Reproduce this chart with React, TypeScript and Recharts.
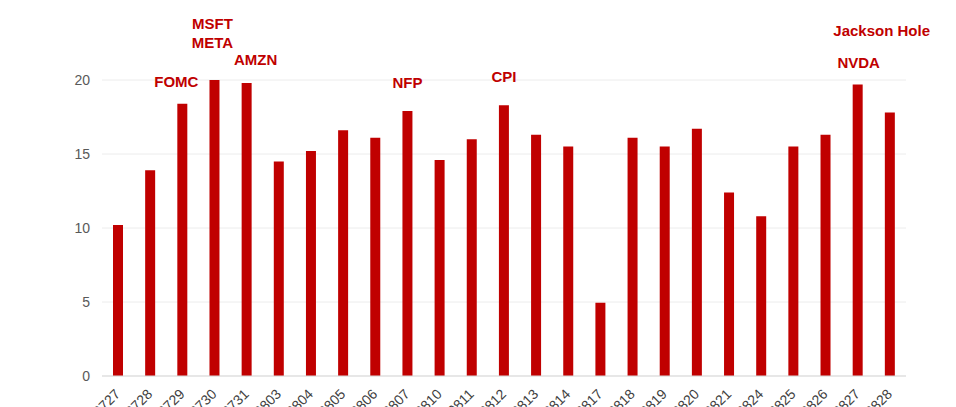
import { Bar, BarChart, CartesianGrid, LabelList, XAxis, YAxis } from "recharts";

const dates = [
  "0727", "0728", "0729", "0730", "0731",
  "0803", "0804", "0805", "0806", "0807",
  "0810", "0811", "0812", "0813", "0814",
  "0817", "0818", "0819", "0820", "0821",
  "0824", "0825", "0826", "0827", "0828",
];

const values = [
  10.2, 13.9, 18.4, 20.0, 19.8,
  14.5, 15.2, 16.6, 16.1, 17.9,
  14.6, 16.0, 18.3, 16.3, 15.5,
  4.95, 16.1, 15.5, 16.7, 12.4,
  10.8, 15.5, 16.3, 19.7, 17.8,
];

const yTicks = [0, 5, 10, 15, 20];

// event notes shown above some bars (top line first)
const notes: Record<string, string[]> = {
  "0729": ["FOMC"],
  "0730": ["MSFT", "META"],
  "0731": ["AMZN"],
  "0807": ["NFP"],
  "0812": ["CPI"],
  "0827": ["Jackson Hole", "NVDA"],
};

const data = dates.map((date, i) => ({ date, value: values[i] }));

const RED = "#c00000";

// how far above the bar top the last line's baseline sits, plus per-line shifts
const lift: Record<string, number> = {
  "0729": 17, "0730": 32, "0731": 18, "0807": 23, "0812": 23, "0827": 16,
};
const lineGap: Record<string, number> = { "0730": 19, "0827": 32 };
const lineShiftX: Record<string, number[]> = {
  "0729": [-6],
  "0730": [-2, -2],
  "0731": [9],
  "0827": [24, 1],
};

function NoteLabel(props: any) {
  const { x, y, width, index } = props;
  const date = dates[index];
  const lines = notes[date];
  if (!lines) return null;
  const cx = x + width / 2;
  const base = y - (lift[date] ?? 18);
  const gap = lineGap[date] ?? 19;
  return (
    <g>
      {lines.map((t, k) => (
        <text
          key={t}
          x={cx + (lineShiftX[date]?.[k] ?? 0)}
          y={base - (lines.length - 1 - k) * gap}
          textAnchor="middle"
          fill="#bf0000"
          fontSize={15}
          fontWeight={700}
          fontFamily="Liberation Sans, Arial, sans-serif"
        >
          {t}
        </text>
      ))}
    </g>
  );
}

export default function App() {
  return (
    <div style={{ position: "absolute", left: 0, top: 0, width: 956, height: 407, overflow: "hidden", background: "#fff" }}>
      <BarChart
        width={956}
        height={407}
        data={data}
        margin={{ top: 80, right: 50, bottom: 0, left: 0 }}
        style={{ fontFamily: "Liberation Sans, Arial, sans-serif" }}
      >
        <CartesianGrid stroke="#ececec" vertical={false} />
        <XAxis
          dataKey="date"
          interval={0}
          height={31}
          angle={-45}
          textAnchor="end"
          tickLine={false}
          axisLine={{ stroke: "#d9d9d9" }}
          tick={{ fill: "#404040", fontSize: 14, dx: -4, dy: 4 }}
        />
        <YAxis
          domain={[0, 20]}
          ticks={yTicks}
          width={102}
          axisLine={false}
          tickLine={false}
          tickMargin={6}
          tick={{ fill: "#595959", fontSize: 14 }}
        />
        <Bar dataKey="value" fill={RED} barSize={10} isAnimationActive={false}>
          <LabelList dataKey="value" content={<NoteLabel />} />
        </Bar>
      </BarChart>
    </div>
  );
}
